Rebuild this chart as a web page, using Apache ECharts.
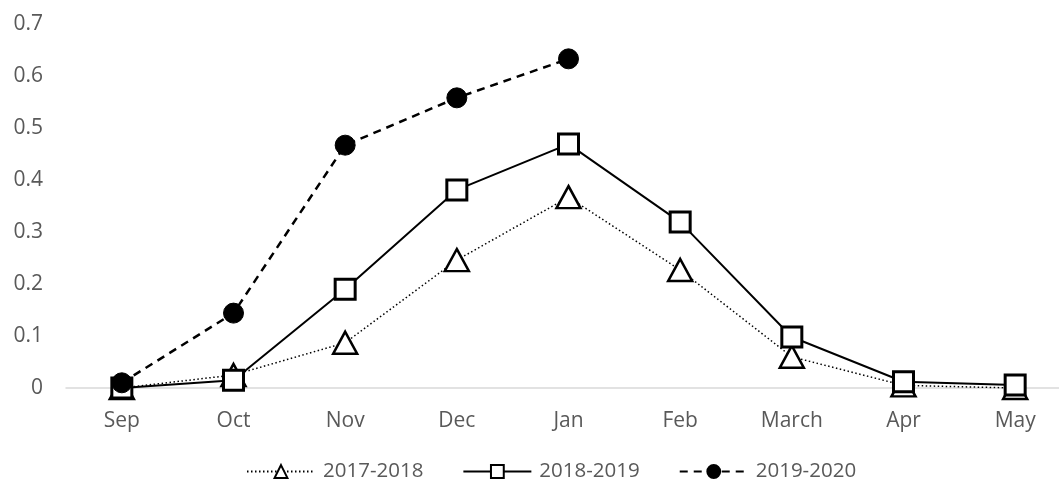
<!DOCTYPE html>
<html>
<head>
<meta charset="utf-8">
<script src="https://cdn.jsdelivr.net/npm/echarts@6/dist/echarts.min.js"></script>
<style>
  html, body { margin: 0; padding: 0; background: #fff; }
  #chart { width: 1059px; height: 482px; }
</style>
</head>
<body>
<div id="chart"></div>
<script>
// Monthly values for three seasons
const months = ['Sep', 'Oct', 'Nov', 'Dec', 'Jan', 'Feb', 'March', 'Apr', 'May'];
const season2017 = [0, 0.025, 0.087, 0.246, 0.367, 0.227, 0.06, 0.005, 0];
const season2018 = [0, 0.015, 0.19, 0.381, 0.469, 0.319, 0.098, 0.012, 0.006];
const season2019 = [0.01, 0.144, 0.467, 0.558, 0.633];
const seriesNames = ['2017-2018', '2018-2019', '2019-2020'];

const fontFamily = '"Open Sans", "Liberation Sans", sans-serif';
const textColor = '#595959';

const chart = echarts.init(document.getElementById('chart'), null, { renderer: 'canvas' });

chart.setOption({
  animation: false,
  backgroundColor: '#ffffff',
  // plot area runs slightly past the right edge of the canvas
  grid: { left: 66, width: 1005, top: 24, height: 364, outerBoundsMode: 'none' },
  legend: {
    top: 456,
    left: 241,
    itemWidth: 68,
    itemHeight: 16,
    itemGap: 39,
    textStyle: { color: textColor, fontSize: 20.5, fontFamily: fontFamily, padding: [0, 0, 0, 3] },
    data: seriesNames
  },
  xAxis: {
    type: 'category',
    data: months,
    boundaryGap: true,
    axisLine: { lineStyle: { color: '#d9d9d9', width: 1.5 } },
    axisTick: { show: false },
    axisLabel: { color: textColor, fontSize: 21, fontFamily: fontFamily, margin: 23 }
  },
  yAxis: {
    type: 'value',
    min: 0,
    max: 0.7,
    interval: 0.1,
    splitLine: { show: false },
    axisLine: { show: false },
    axisTick: { show: false },
    axisLabel: {
      color: textColor, fontSize: 21, fontFamily: fontFamily, margin: 23,
      formatter: v => (Math.round(v * 10) / 10).toString()
    }
  },
  series: [
    {
      name: seriesNames[0],
      type: 'line',
      data: season2017,
      symbol: 'triangle',
      symbolSize: [24, 22],
      lineStyle: { color: '#000', width: 1.5, type: [1.5, 2.5] },
      itemStyle: { color: '#fff', borderColor: '#000', borderWidth: 2.5 },
      z: 2
    },
    {
      name: seriesNames[1],
      type: 'line',
      data: season2018,
      symbol: 'rect',
      symbolSize: 20,
      lineStyle: { color: '#000', width: 2, type: 'solid' },
      itemStyle: { color: '#fff', borderColor: '#000', borderWidth: 3 },
      z: 3
    },
    {
      name: seriesNames[2],
      type: 'line',
      data: season2019,
      symbol: 'circle',
      symbolSize: 20,
      lineStyle: { color: '#000', width: 2.5, type: [8, 6] },
      itemStyle: { color: '#000', borderColor: '#000', borderWidth: 1 },
      z: 4
    }
  ]
});
</script>
</body>
</html>
